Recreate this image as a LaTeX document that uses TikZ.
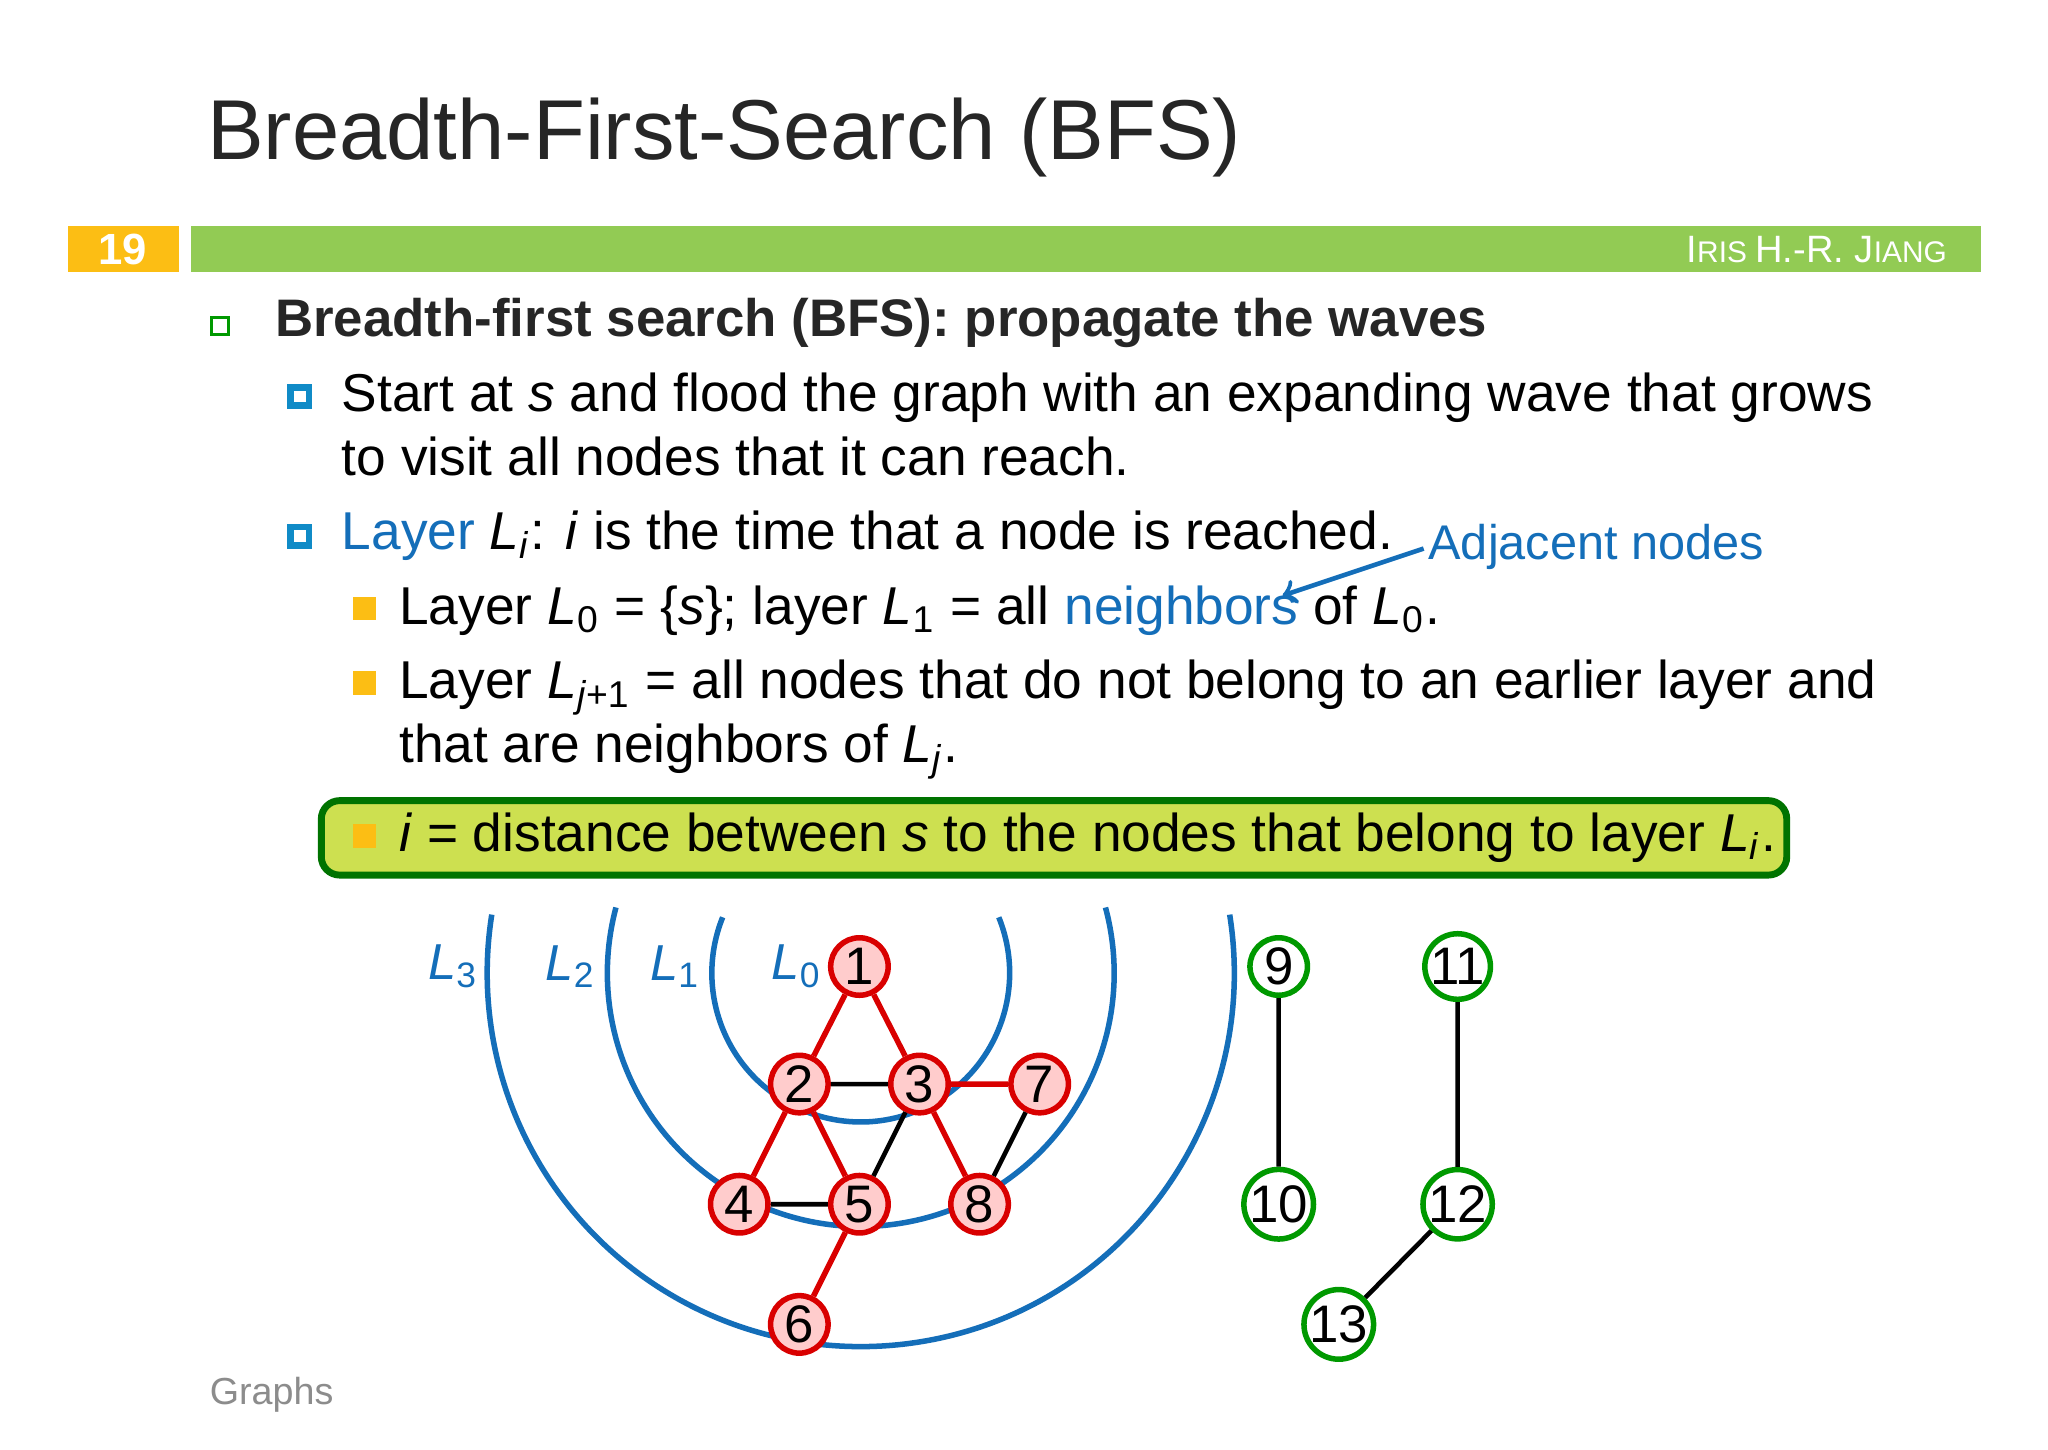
\documentclass[tikz,border=0pt]{standalone}
\usepackage{fontspec}
\setmainfont{Liberation Sans}
\newcommand{\sbs}[1]{\textsubscript{#1}}
\begin{document}
\begin{tikzpicture}[x=0.01cm,y=-0.01cm,
  txt/.style={anchor=base west,inner sep=0,font=\fontsize{11.6}{14}\selectfont},
  rn/.style={circle,draw=red!85!black,fill=red!20,line width=1.2pt,minimum size=0.44cm,inner sep=0,font=\fontsize{11.5}{13}\selectfont},
  gn/.style={circle,draw=green!60!black,fill=white,line width=1.2pt,minimum size=0.44cm,inner sep=0,font=\fontsize{11.5}{13}\selectfont},
  re/.style={red!85!black,line width=1.2pt},
  be/.style={black,line width=1pt},
  wave/.style={line width=1.2pt},
  lab/.style={font=\fontsize{11}{13}\selectfont}]
\definecolor{bb}{RGB}{20,110,185}
\definecolor{gbar}{RGB}{146,203,84}
\definecolor{org}{RGB}{252,190,20}
\definecolor{hl}{RGB}{205,224,80}
\useasboundingbox (0,0) rectangle (1568,1110);
\fill[white] (0,0) rectangle (1568,1110);
\node[anchor=base west,inner sep=0,font=\fontsize{18.5}{22}\selectfont,text=black!85] (title) at (158,122) {Breadth-First-Search (BFS)};
\fill[org] (52,173) rectangle (137,208);
\node[font=\bfseries\fontsize{9.5}{11}\selectfont,text=white] (num) at (94,191) {19};
\fill[gbar] (146,173) rectangle (1517,208);
\node[anchor=east,font=\fontsize{8.3}{10}\selectfont,text=white] (auth) at (1503,191) {I\fontsize{6.5}{8}\selectfont RIS \fontsize{8.3}{10}\selectfont H.-R. J\fontsize{6.5}{8}\selectfont IANG};
\draw[green!60!black,line width=0.8pt] (162,243) rectangle (175,256);
\node[txt,font=\bfseries\fontsize{11.5}{14}\selectfont,text=black!85] (h) at (210,258) {Breadth-first search (BFS): propagate the waves};
\foreach \yy in {303,410}{\fill[bb!80!cyan] (220,\yy-9) rectangle ++(19,19); \fill[white] (225,\yy-4) rectangle ++(9,9);}
\node[txt] (t1) at (261,315) {Start at \textit{s} and flood the graph with an expanding wave that grows};
\node[txt] (t2) at (261,364) {to visit all nodes that it can reach.};
\node[txt] (t3) at (261,421) {\textcolor{bb}{Layer} \textit{L}\sbs{\textit{i}}: \textit{i} is the time that a node is reached.};
\node[txt,font=\fontsize{10.6}{13}\selectfont,text=bb] (adj) at (1093,428) {Adjacent nodes};
\foreach \yy in {466,523,640}{\fill[org] (270,\yy-9) rectangle ++(18,18);}
\node[txt] (t4) at (305,478) {Layer \textit{L}\sbs{0} = \{\textit{s}\}; layer \textit{L}\sbs{1} = all \textcolor{bb}{neighbors} of \textit{L}\sbs{0}.};
\coordinate (nb) at (982,456);
\draw[bb,line width=1pt,->] (1090,420) -- (nb);
\node[txt] (t5) at (305,535) {Layer \textit{L}\sbs{\textit{j}+1} = all nodes that do not belong to an earlier layer and};
\node[txt] (t6) at (305,584) {that are neighbors of \textit{L}\sbs{\textit{j}}.};
\filldraw[fill=hl,draw=green!45!black,line width=1.5pt,rounded corners=4pt] (246,613) rectangle (1368,670);
\fill[org] (270,631) rectangle ++(18,18);
\node[txt] (t7) at (305,652) {\textit{i} = distance between \textit{s} to the nodes that belong to layer \textit{L}\sbs{\textit{i}}.};
\coordinate (c) at (659,745);
\draw[wave,bb] ([shift={(-22:114)}]c) arc[start angle=-22,end angle=202,radius=114];
\draw[wave,bb] ([shift={(-15:194)}]c) arc[start angle=-15,end angle=195,radius=194];
\draw[wave,bb] ([shift={(-9:286)}]c) arc[start angle=-9,end angle=189,radius=286];
\node[lab,text=bb] (L3) at (347,740) {\textit{L}\sbs{3}};
\node[lab,text=bb] (L2) at (437,740) {\textit{L}\sbs{2}};
\node[lab,text=bb] (L1) at (517,740) {\textit{L}\sbs{1}};
\node[lab,text=bb] (L0) at (610,740) {\textit{L}\sbs{0}};
\node[rn] (n1) at (658,740) {1};
\node[rn] (n2) at (612,830) {2};
\node[rn] (n3) at (704,830) {3};
\node[rn] (n7) at (796,830) {7};
\node[rn] (n4) at (566,922) {4};
\node[rn] (n5) at (658,922) {5};
\node[rn] (n8) at (750,922) {8};
\node[rn] (n6) at (612,1014) {6};
\node[gn] (n9) at (979,740) {9};
\node[gn] (n10) at (979,922) {10};
\node[gn] (n11) at (1116,740) {11};
\node[gn] (n12) at (1116,922) {12};
\node[gn] (n13) at (1025,1014) {13};
\draw[re] (n1)--(n2) (n1)--(n3) (n2)--(n4) (n2)--(n5) (n3)--(n7) (n3)--(n8) (n5)--(n6);
\draw[be] (n2)--(n3) (n3)--(n5) (n4)--(n5) (n7)--(n8) (n9)--(n10) (n11)--(n12) (n12)--(n13);
\node[anchor=base west,inner sep=0,font=\fontsize{8.2}{10}\selectfont,text=black!45] (g) at (160,1075) {Graphs};
\end{tikzpicture}
\end{document}
